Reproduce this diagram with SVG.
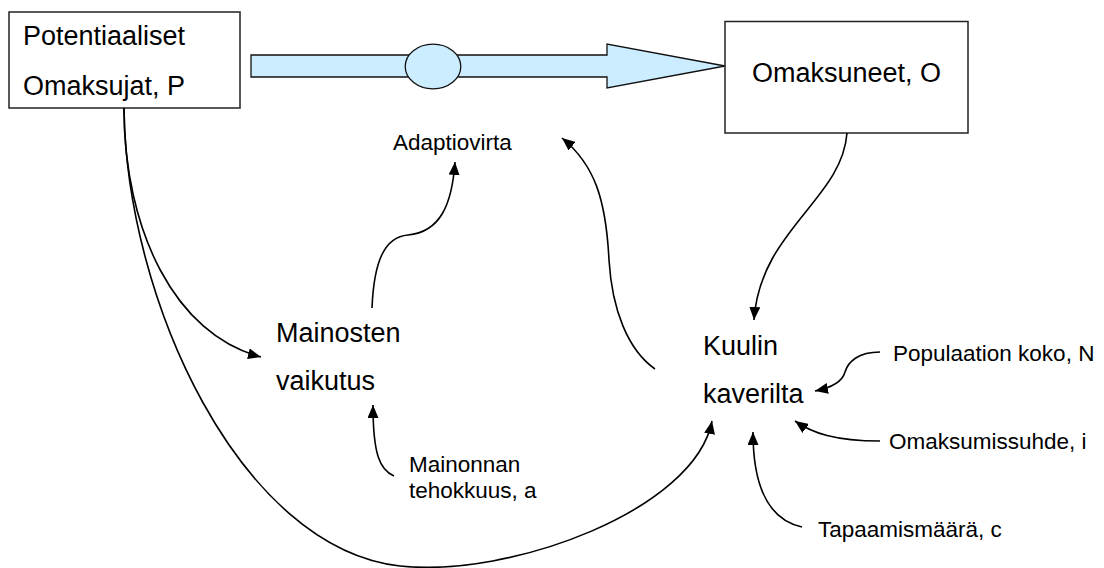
<svg xmlns="http://www.w3.org/2000/svg" width="1104" height="568" viewBox="0 0 1104 568">
<defs>
<style>
text{font-family:"Liberation Sans",Arial,sans-serif;fill:#000}
.big{font-size:27px}
.sm{font-size:22.5px}
.box{fill:#fff;stroke:#222;stroke-width:1.5}
.flow{fill:#CCECFF;stroke:#111;stroke-width:1.3}
.con{fill:none;stroke:#000;stroke-width:1.6;marker-end:url(#ah)}
</style>
<marker id="ah" markerUnits="userSpaceOnUse" markerWidth="13" markerHeight="11" refX="13" refY="5.5" orient="auto">
<path d="M0,0 L13,5.5 L0,11 z" fill="#000"/>
</marker>
</defs>
<rect width="1104" height="568" fill="#fff"/>
<g id="flow">
<polygon class="flow" points="251,55 607,55 607,44 725,66 607,88 607,77 251,77"/>
<ellipse class="flow" cx="433" cy="66.5" rx="27.8" ry="22.4"/>
</g>
<g id="node-P">
<rect class="box" x="9" y="12" width="231" height="96"/>
<text class="big" x="23" y="45">Potentiaaliset</text>
<text class="big" x="23" y="95">Omaksujat, P</text>
</g>
<g id="node-O">
<rect class="box" x="725" y="21.5" width="243" height="111.5"/>
<text class="big" x="752" y="82">Omaksuneet, O</text>
</g>
<g id="node-adaptiovirta">
<text class="sm" x="393" y="150">Adaptiovirta</text>
</g>
<g id="node-mainosten">
<text class="big" x="276" y="342">Mainosten</text>
<text class="big" x="276" y="390">vaikutus</text>
</g>
<g id="node-kuulin">
<text class="big" x="703" y="355">Kuulin</text>
<text class="big" x="703" y="403">kaverilta</text>
</g>
<g id="node-mainonnan">
<text class="sm" x="409" y="472">Mainonnan</text>
<text class="sm" x="409" y="498">tehokkuus, a</text>
</g>
<g id="node-populaatio">
<text class="sm" x="893" y="361">Populaation koko, N</text>
</g>
<g id="node-omaksumissuhde">
<text class="sm" x="889" y="449">Omaksumissuhde, i</text>
</g>
<g id="node-tapaamismaara">
<text class="sm" x="818" y="537">Tapaamismäärä, c</text>
</g>
<g id="connectors">
<path class="con" d="M124,108 C124,230 175,335 261,357"/>
<path class="con" d="M124,108 C126,300 240,548 400,566 C510,578 695,510 712,421"/>
<path class="con" d="M372,308 C374,260 385,237 408,235 C440,232 452,205 455,162"/>
<path class="con" d="M655,369 C628,350 612,310 609,260 C606,200 595,165 562,138"/>
<path class="con" d="M847,133 C842,200 760,230 754,320"/>
<path class="con" d="M880,352 C858,352 848,362 845,372 C842,383 830,388 815,391"/>
<path class="con" d="M880,441 C835,441 812,433 795,421"/>
<path class="con" d="M802,527 C770,520 753,490 753,432"/>
<path class="con" d="M394,476 C380,470 373,455 373,405"/>
</g>
</svg>
